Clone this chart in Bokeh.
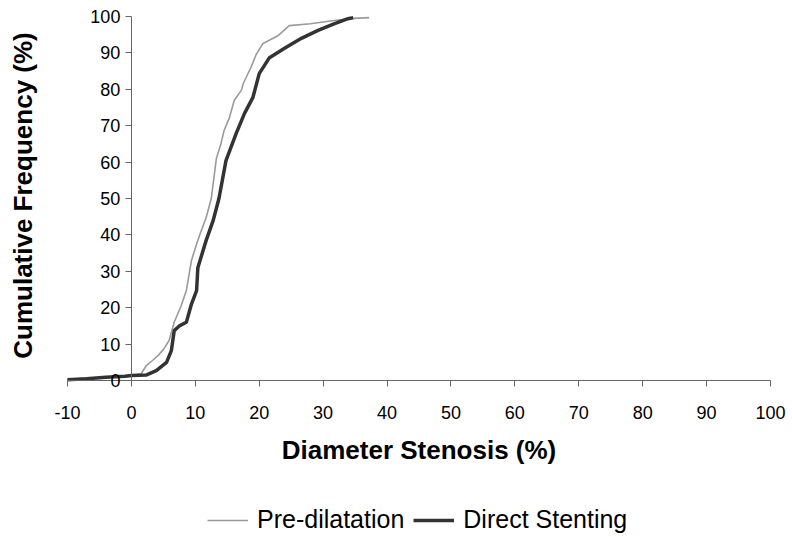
from bokeh.plotting import figure
from bokeh.models import FixedTicker, Legend, LegendItem, Label, Range1d
from bokeh.embed import file_html
from bokeh.resources import INLINE

x_ticks = list(range(-10, 101, 10))
y_ticks = list(range(0, 101, 10))

pre_x = [-10, -7, -4, -1, 0, 1.5, 2.3, 3.3, 4.2, 5.0, 5.9, 6.7, 7.8, 8.6, 9.4, 10.2, 10.9,
         11.7, 12.5, 13.3, 14.0, 14.5, 15.3, 16.1, 17.2, 17.5, 18.7, 19.5, 20.6, 23.0,
         24.7, 28.0, 31.7, 34.8, 37.2]
pre_y = [0.3, 0.6, 0.9, 1.1, 1.4, 1.8, 4.0, 5.5, 6.9, 8.5, 11.0, 16.0, 20.6, 24.7, 33.0,
         37.5, 41.0, 44.8, 50.0, 61.0, 65.0, 68.7, 72.0, 77.0, 79.7, 81.6, 86.0, 89.5,
         92.6, 94.8, 97.5, 98.0, 98.9, 99.5, 99.7]

ds_x = [-10, -7, -4, -1, 0, 2.3, 3.9, 5.5, 6.25, 6.7, 7.5, 8.6, 9.4, 10.2, 10.4, 11.7,
        12.8, 13.7, 14.8, 16.4, 17.7, 19.0, 20.0, 21.6, 23.9, 26.6, 29.2, 31.7, 33.9, 34.7]
ds_y = [0.2, 0.5, 0.9, 1.2, 1.4, 1.5, 2.7, 5.0, 8.2, 13.7, 15.0, 16.0, 21.0, 24.7, 31.0,
        38.5, 44.0, 50.0, 60.4, 67.9, 73.4, 77.7, 84.3, 88.7, 91.2, 94.0, 96.2, 98.0,
        99.4, 99.7]

FONT = "Liberation Sans"

# frame covers the whole canvas; axes are placed at x=0 / y=0 inside it
p = figure(frame_width=792, frame_height=537, output_backend="svg", toolbar_location=None,
           x_range=Range1d(-20.48, 103.44), y_range=Range1d(-43.13, 104.40),
           min_border=0)
p.outline_line_color = None
p.grid.visible = False
p.border_fill_color = "white"

r1 = p.line(pre_x, pre_y, line_color="#9a9a9a", line_width=1.6)
r2 = p.line(ds_x, ds_y, line_color="#333333", line_width=3.5)

for ax in (p.xaxis, p.yaxis):
    ax.axis_line_color = "#666666"
    ax.major_tick_line_color = "#666666"
    ax.major_tick_out = 6
    ax.major_tick_in = 0
    ax.minor_tick_line_color = None
    ax.major_label_text_font = FONT
    ax.major_label_text_font_size = "18px"
    ax.major_label_text_color = "black"

p.xaxis.ticker = FixedTicker(ticks=x_ticks)
p.xaxis.major_label_overrides = {-10: "-10"}
p.xaxis.major_label_standoff = 19
p.xaxis.fixed_location = 0
p.xaxis.bounds = (-10, 100)
p.yaxis.ticker = FixedTicker(ticks=y_ticks)
p.yaxis.fixed_location = 0
p.yaxis.bounds = (0, 100)
p.xaxis.axis_label = "Diameter Stenosis (%)"
p.xaxis.axis_label_text_font = FONT
p.xaxis.axis_label_text_font_style = "bold"
p.xaxis.axis_label_text_font_size = "26px"
p.xaxis.axis_label_text_color = "black"
p.xaxis.axis_label_standoff = 13

ytitle = Label(x=22, y=342, x_units="screen", y_units="screen",
               text="Cumulative Frequency (%)", angle=90, angle_units="deg",
               text_align="center", text_baseline="middle", text_font=FONT,
               text_font_size="26px", text_font_style="bold", text_color="black")
p.add_layout(ytitle)

legend = Legend(items=[LegendItem(label="Pre-dilatation", renderers=[r1]),
                       LegendItem(label="Direct Stenting", renderers=[r2])],
                orientation="horizontal", location=(207, 3),
                label_text_font=FONT, label_text_font_size="25px",
                label_text_color="black", background_fill_alpha=0,
                glyph_width=41, border_line_alpha=0, spacing=9,
                label_standoff=9, margin=0, padding=0)
p.add_layout(legend)

open("out.html", "w").write(file_html(p, INLINE))
